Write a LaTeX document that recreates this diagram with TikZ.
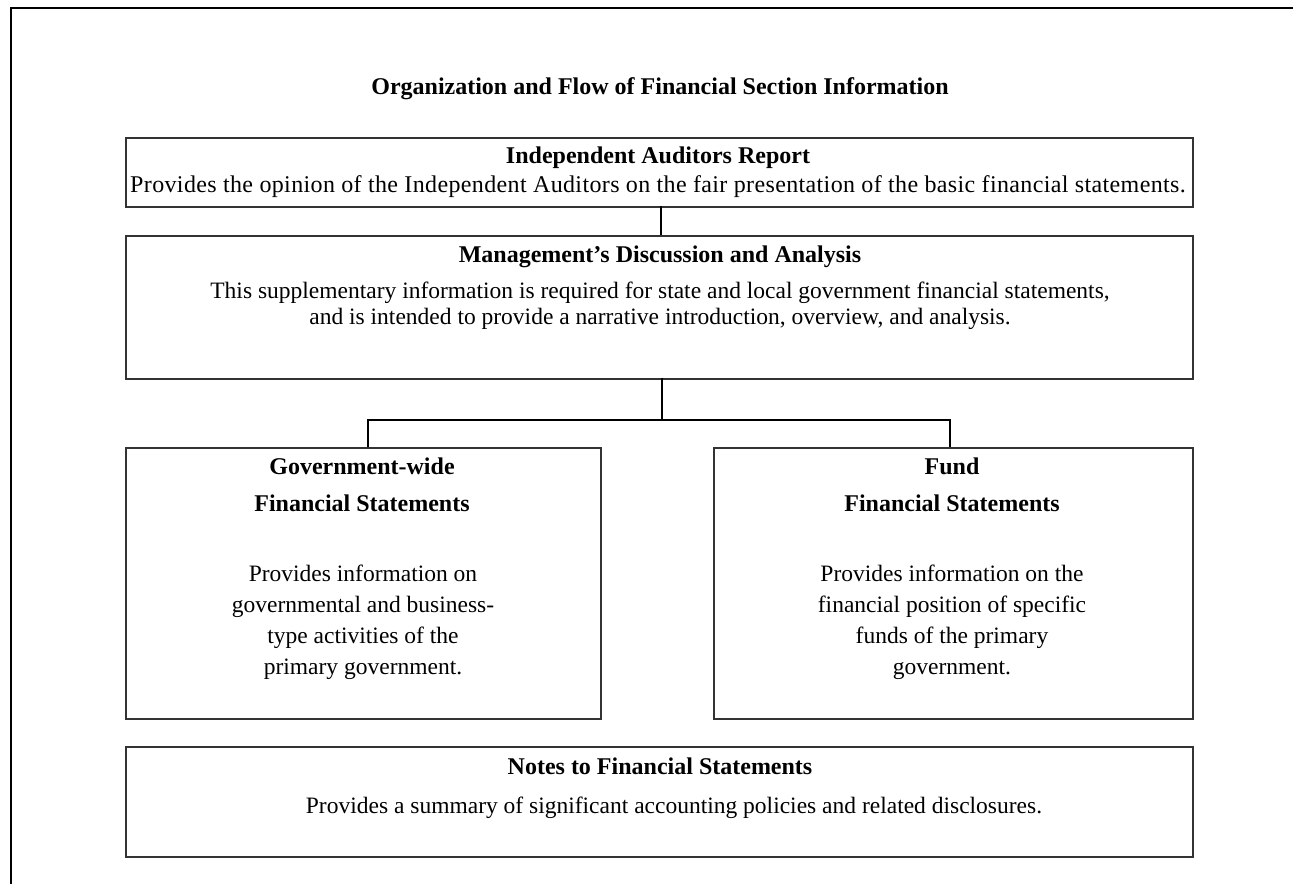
\documentclass[tikz,border=0pt]{standalone}
\usepackage{fontspec}
\setmainfont{Liberation Serif}
\newfontfamily\widefont[LetterSpace=1.5]{Liberation Serif}
\begin{document}
\begin{tikzpicture}[x=1pt,y=-1pt,
  box/.style={draw=black!80, line width=2pt, inner sep=0pt, anchor=north west},
  link/.style={draw=black, line width=2pt},
  hd/.style={font=\fontsize{24}{28}\selectfont\bfseries, inner sep=0pt, anchor=base},
  tx/.style={font=\fontsize{23.5}{28}\selectfont, inner sep=0pt, anchor=base},
  wtx/.style={font=\widefont\fontsize{24}{28}\selectfont, inner sep=0pt, anchor=base}]
\useasboundingbox (0,0) rectangle (1293,884);
% page frame (left and top edges)
\draw[line width=2pt] (11,884) -- (11,8) -- (1293,8);

% title
\node[hd] (title) at (660,94) {Organization and Flow of Financial Section Information};

% boxes
\node[box, minimum width=1067pt, minimum height=69pt] (iar) at (125,137) {};
\node[box, minimum width=1067pt, minimum height=143pt] (mda) at (125,235) {};
\node[box, minimum width=475pt, minimum height=271pt] (gw) at (125,447) {};
\node[box, minimum width=479pt, minimum height=271pt] (fund) at (713,447) {};
\node[box, minimum width=1067pt, minimum height=110pt] (notes) at (125,746) {};

% Independent Auditors Report
\node[hd] (iarh) at (658,163) {Independent Auditors Report};
\node[wtx] (iart) at (658,192) {Provides the opinion of the Independent Auditors on the fair presentation of the basic financial statements.};

% MD&A
\node[hd] (mdah) at (660,262) {Management's Discussion and Analysis};
\node[tx] (mdat1) at (660,298) {This supplementary information is required for state and local government financial statements,};
\node[tx] (mdat2) at (660,324) {and is intended to provide a narrative introduction, overview, and analysis.};

% Government-wide statements
\node[hd] (gwh1) at (362,474) {Government-wide};
\node[hd] (gwh2) at (362,511) {Financial Statements};
\node[tx] (gwt1) at (363,581) {Provides information on};
\node[tx] (gwt2) at (363,612) {governmental and business-};
\node[tx] (gwt3) at (363,643) {type activities of the};
\node[tx] (gwt4) at (363,674) {primary government.};

% Fund statements
\node[hd] (fdh1) at (952,474) {Fund};
\node[hd] (fdh2) at (952,511) {Financial Statements};
\node[tx] (fdt1) at (952,581) {Provides information on the};
\node[tx] (fdt2) at (952,612) {financial position of specific};
\node[tx] (fdt3) at (952,643) {funds of the primary};
\node[tx] (fdt4) at (952,674) {government.};

% Notes
\node[hd] (noth) at (660,774) {Notes to Financial Statements};
\node[tx] (nott) at (674,813) {Provides a summary of significant accounting policies and related disclosures.};

% connectors
\coordinate (iarb) at (661,206);
\coordinate (mdat) at (661,235);
\draw[link] (iarb) -- (mdat);
\coordinate (mdab) at (662,378);
\coordinate (jn) at (662,420);
\coordinate (jl) at (368,420);
\coordinate (jr) at (950,420);
\coordinate (gwtop) at (368,447);
\coordinate (fdtop) at (950,447);
\draw[link] (mdab) -- (jn);
\draw[link] (gwtop) -- (jl) -- (jr) -- (fdtop);
\end{tikzpicture}
\end{document}
